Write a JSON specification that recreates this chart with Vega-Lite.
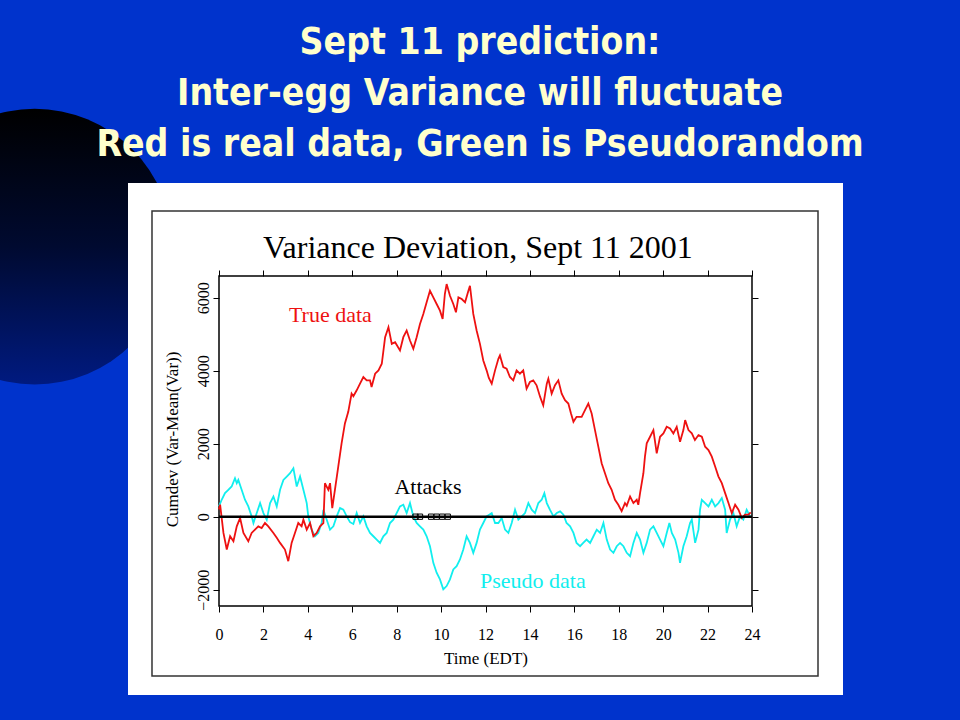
{
 "$schema": "https://vega.github.io/schema/vega-lite/v6.json",
 "width": 715, "height": 512,
 "autosize": {"type": "none"},
 "padding": {"left": 128, "top": 183, "right": 117, "bottom": 25},
 "background": "#0033cc",
 "config": {"view": {"stroke": null}, "axis": {"grid": false, "domain": false, "tickColor": "#000000", "tickWidth": 1, "labelColor": "#000000", "titleColor": "#000000", "labelFont": "Liberation Serif", "titleFont": "Liberation Serif", "titleFontWeight": "normal", "labelFlush": false, "labelOverlap": false}},
 "title": {"text": ["Sept 11 prediction:", "Inter-egg Variance will fluctuate", "Red is real data, Green is Pseudorandom"], "font": "Liberation Sans Narrow, Arial Narrow, DejaVu Sans Condensed, sans-serif", "fontSize": 37, "fontWeight": "bold", "color": "#ffffcc", "lineHeight": 51, "anchor": "middle", "frame": "group", "dx": -5.5, "offset": -55, "orient": "top"},
 "datasets": {
  "series": [
   {"s":"true","t":0,"v":200},{"s":"true","t":0.05,"v":330},{"s":"true","t":0.2,"v":-445},{"s":"true","t":0.35,"v":-900},{"s":"true","t":0.5,"v":-536},{"s":"true","t":0.65,"v":-673},{"s":"true","t":0.8,"v":-264},{"s":"true","t":0.95,"v":-36},{"s":"true","t":1.1,"v":-445},{"s":"true","t":1.32,"v":-673},{"s":"true","t":1.47,"v":-445},{"s":"true","t":1.62,"v":-355},{"s":"true","t":1.77,"v":-264},{"s":"true","t":1.92,"v":-309},{"s":"true","t":2.07,"v":-173},{"s":"true","t":2.22,"v":-264},{"s":"true","t":2.45,"v":-445},{"s":"true","t":2.6,"v":-580},{"s":"true","t":2.75,"v":-718},{"s":"true","t":2.97,"v":-900},{"s":"true","t":3.12,"v":-1218},{"s":"true","t":3.27,"v":-718},{"s":"true","t":3.42,"v":-445},{"s":"true","t":3.57,"v":-173},{"s":"true","t":3.72,"v":-264},{"s":"true","t":3.8,"v":-82},{"s":"true","t":3.95,"v":-355},{"s":"true","t":4.1,"v":-173},{"s":"true","t":4.25,"v":-536},{"s":"true","t":4.4,"v":-445},{"s":"true","t":4.55,"v":-264},{"s":"true","t":4.7,"v":-173},{"s":"true","t":4.77,"v":918},{"s":"true","t":4.92,"v":736},{"s":"true","t":5.0,"v":918},{"s":"true","t":5.1,"v":236},{"s":"true","t":5.22,"v":736},{"s":"true","t":5.37,"v":1373},{"s":"true","t":5.52,"v":2009},{"s":"true","t":5.67,"v":2554},{"s":"true","t":5.82,"v":2872},{"s":"true","t":5.97,"v":3372},{"s":"true","t":6.05,"v":3300},{"s":"true","t":6.2,"v":3463},{"s":"true","t":6.35,"v":3645},{"s":"true","t":6.5,"v":3827},{"s":"true","t":6.65,"v":3736},{"s":"true","t":6.8,"v":3736},{"s":"true","t":6.87,"v":3554},{"s":"true","t":7.03,"v":3918},{"s":"true","t":7.18,"v":4009},{"s":"true","t":7.33,"v":4190},{"s":"true","t":7.48,"v":4918},{"s":"true","t":7.63,"v":5190},{"s":"true","t":7.78,"v":4736},{"s":"true","t":7.93,"v":4781},{"s":"true","t":8.15,"v":4554},{"s":"true","t":8.3,"v":4918},{"s":"true","t":8.45,"v":5100},{"s":"true","t":8.6,"v":4827},{"s":"true","t":8.75,"v":4600},{"s":"true","t":8.9,"v":4918},{"s":"true","t":9.05,"v":5281},{"s":"true","t":9.2,"v":5554},{"s":"true","t":9.35,"v":5872},{"s":"true","t":9.5,"v":6190},{"s":"true","t":9.65,"v":6009},{"s":"true","t":9.8,"v":5827},{"s":"true","t":9.95,"v":5645},{"s":"true","t":10.07,"v":5418},{"s":"true","t":10.17,"v":6100},{"s":"true","t":10.25,"v":6372},{"s":"true","t":10.4,"v":6054},{"s":"true","t":10.55,"v":5827},{"s":"true","t":10.67,"v":5600},{"s":"true","t":10.78,"v":6009},{"s":"true","t":10.93,"v":5963},{"s":"true","t":11.08,"v":5872},{"s":"true","t":11.23,"v":6190},{"s":"true","t":11.3,"v":6327},{"s":"true","t":11.45,"v":5554},{"s":"true","t":11.6,"v":5100},{"s":"true","t":11.75,"v":4736},{"s":"true","t":11.9,"v":4281},{"s":"true","t":12.05,"v":4009},{"s":"true","t":12.15,"v":3800},{"s":"true","t":12.28,"v":3645},{"s":"true","t":12.43,"v":4009},{"s":"true","t":12.58,"v":4327},{"s":"true","t":12.65,"v":4418},{"s":"true","t":12.8,"v":4100},{"s":"true","t":12.95,"v":4054},{"s":"true","t":13.1,"v":3827},{"s":"true","t":13.25,"v":3736},{"s":"true","t":13.4,"v":4009},{"s":"true","t":13.55,"v":3918},{"s":"true","t":13.7,"v":4009},{"s":"true","t":13.85,"v":3509},{"s":"true","t":14.0,"v":3690},{"s":"true","t":14.15,"v":3736},{"s":"true","t":14.3,"v":3600},{"s":"true","t":14.46,"v":3281},{"s":"true","t":14.6,"v":3054},{"s":"true","t":14.76,"v":3645},{"s":"true","t":14.83,"v":3781},{"s":"true","t":14.98,"v":3372},{"s":"true","t":15.13,"v":3600},{"s":"true","t":15.28,"v":3736},{"s":"true","t":15.43,"v":3372},{"s":"true","t":15.58,"v":3190},{"s":"true","t":15.73,"v":3100},{"s":"true","t":15.85,"v":2827},{"s":"true","t":15.96,"v":2600},{"s":"true","t":16.1,"v":2736},{"s":"true","t":16.33,"v":2736},{"s":"true","t":16.48,"v":2918},{"s":"true","t":16.63,"v":3100},{"s":"true","t":16.78,"v":2827},{"s":"true","t":16.93,"v":2372},{"s":"true","t":17.08,"v":1918},{"s":"true","t":17.23,"v":1463},{"s":"true","t":17.38,"v":1190},{"s":"true","t":17.53,"v":918},{"s":"true","t":17.68,"v":736},{"s":"true","t":17.83,"v":464},{"s":"true","t":17.98,"v":327},{"s":"true","t":18.13,"v":150},{"s":"true","t":18.28,"v":373},{"s":"true","t":18.36,"v":300},{"s":"true","t":18.51,"v":554},{"s":"true","t":18.66,"v":373},{"s":"true","t":18.81,"v":464},{"s":"true","t":18.88,"v":327},{"s":"true","t":18.96,"v":645},{"s":"true","t":19.11,"v":1191},{"s":"true","t":19.18,"v":1645},{"s":"true","t":19.26,"v":2009},{"s":"true","t":19.41,"v":2190},{"s":"true","t":19.56,"v":2372},{"s":"true","t":19.71,"v":1736},{"s":"true","t":19.86,"v":2190},{"s":"true","t":20.01,"v":2282},{"s":"true","t":20.16,"v":2463},{"s":"true","t":20.31,"v":2418},{"s":"true","t":20.46,"v":2282},{"s":"true","t":20.61,"v":2463},{"s":"true","t":20.76,"v":2054},{"s":"true","t":20.91,"v":2372},{"s":"true","t":20.99,"v":2645},{"s":"true","t":21.14,"v":2372},{"s":"true","t":21.29,"v":2282},{"s":"true","t":21.43,"v":2100},{"s":"true","t":21.59,"v":2236},{"s":"true","t":21.74,"v":2190},{"s":"true","t":21.89,"v":1918},{"s":"true","t":22.04,"v":1827},{"s":"true","t":22.19,"v":1645},{"s":"true","t":22.34,"v":1373},{"s":"true","t":22.49,"v":1100},{"s":"true","t":22.64,"v":918},{"s":"true","t":22.79,"v":645},{"s":"true","t":22.94,"v":373},{"s":"true","t":23.09,"v":100},{"s":"true","t":23.24,"v":327},{"s":"true","t":23.39,"v":190},{"s":"true","t":23.54,"v":-36},{"s":"true","t":23.69,"v":55},{"s":"true","t":23.84,"v":55},{"s":"true","t":23.94,"v":118},
   {"s":"pseudo","t":0,"v":282},{"s":"pseudo","t":0.12,"v":464},{"s":"pseudo","t":0.27,"v":645},{"s":"pseudo","t":0.42,"v":736},{"s":"pseudo","t":0.57,"v":827},{"s":"pseudo","t":0.72,"v":1054},{"s":"pseudo","t":0.8,"v":918},{"s":"pseudo","t":0.87,"v":1009},{"s":"pseudo","t":1.02,"v":736},{"s":"pseudo","t":1.17,"v":464},{"s":"pseudo","t":1.32,"v":282},{"s":"pseudo","t":1.47,"v":9},{"s":"pseudo","t":1.55,"v":-173},{"s":"pseudo","t":1.7,"v":100},{"s":"pseudo","t":1.85,"v":373},{"s":"pseudo","t":2.0,"v":100},{"s":"pseudo","t":2.15,"v":-82},{"s":"pseudo","t":2.3,"v":373},{"s":"pseudo","t":2.45,"v":554},{"s":"pseudo","t":2.6,"v":282},{"s":"pseudo","t":2.75,"v":736},{"s":"pseudo","t":2.9,"v":1009},{"s":"pseudo","t":3.05,"v":1100},{"s":"pseudo","t":3.2,"v":1191},{"s":"pseudo","t":3.35,"v":1327},{"s":"pseudo","t":3.5,"v":827},{"s":"pseudo","t":3.65,"v":1100},{"s":"pseudo","t":3.8,"v":736},{"s":"pseudo","t":3.95,"v":373},{"s":"pseudo","t":4.02,"v":9},{"s":"pseudo","t":4.17,"v":-355},{"s":"pseudo","t":4.32,"v":-536},{"s":"pseudo","t":4.47,"v":-445},{"s":"pseudo","t":4.62,"v":-173},{"s":"pseudo","t":4.7,"v":190},{"s":"pseudo","t":4.85,"v":-82},{"s":"pseudo","t":5.0,"v":-355},{"s":"pseudo","t":5.15,"v":-264},{"s":"pseudo","t":5.3,"v":9},{"s":"pseudo","t":5.45,"v":236},{"s":"pseudo","t":5.6,"v":191},{"s":"pseudo","t":5.75,"v":9},{"s":"pseudo","t":5.9,"v":-150},{"s":"pseudo","t":6.05,"v":-200},{"s":"pseudo","t":6.2,"v":100},{"s":"pseudo","t":6.35,"v":-173},{"s":"pseudo","t":6.5,"v":9},{"s":"pseudo","t":6.65,"v":-264},{"s":"pseudo","t":6.8,"v":-445},{"s":"pseudo","t":6.95,"v":-536},{"s":"pseudo","t":7.1,"v":-627},{"s":"pseudo","t":7.25,"v":-718},{"s":"pseudo","t":7.4,"v":-536},{"s":"pseudo","t":7.55,"v":-445},{"s":"pseudo","t":7.7,"v":-173},{"s":"pseudo","t":7.85,"v":-82},{"s":"pseudo","t":8.0,"v":100},{"s":"pseudo","t":8.15,"v":282},{"s":"pseudo","t":8.3,"v":327},{"s":"pseudo","t":8.45,"v":100},{"s":"pseudo","t":8.6,"v":373},{"s":"pseudo","t":8.75,"v":9},{"s":"pseudo","t":8.9,"v":-173},{"s":"pseudo","t":9.05,"v":-264},{"s":"pseudo","t":9.2,"v":-355},{"s":"pseudo","t":9.35,"v":-536},{"s":"pseudo","t":9.5,"v":-809},{"s":"pseudo","t":9.65,"v":-1264},{"s":"pseudo","t":9.8,"v":-1536},{"s":"pseudo","t":9.95,"v":-1718},{"s":"pseudo","t":10.1,"v":-1990},{"s":"pseudo","t":10.25,"v":-1900},{"s":"pseudo","t":10.4,"v":-1718},{"s":"pseudo","t":10.55,"v":-1445},{"s":"pseudo","t":10.7,"v":-1354},{"s":"pseudo","t":10.85,"v":-1172},{"s":"pseudo","t":11.0,"v":-900},{"s":"pseudo","t":11.15,"v":-536},{"s":"pseudo","t":11.3,"v":-718},{"s":"pseudo","t":11.45,"v":-990},{"s":"pseudo","t":11.6,"v":-718},{"s":"pseudo","t":11.75,"v":-355},{"s":"pseudo","t":11.9,"v":-173},{"s":"pseudo","t":12.05,"v":9},{"s":"pseudo","t":12.28,"v":100},{"s":"pseudo","t":12.43,"v":-173},{"s":"pseudo","t":12.58,"v":-173},{"s":"pseudo","t":12.73,"v":-36},{"s":"pseudo","t":12.88,"v":-355},{"s":"pseudo","t":13.03,"v":-445},{"s":"pseudo","t":13.18,"v":-173},{"s":"pseudo","t":13.33,"v":191},{"s":"pseudo","t":13.48,"v":-82},{"s":"pseudo","t":13.63,"v":9},{"s":"pseudo","t":13.78,"v":100},{"s":"pseudo","t":13.93,"v":373},{"s":"pseudo","t":14.08,"v":191},{"s":"pseudo","t":14.23,"v":100},{"s":"pseudo","t":14.38,"v":373},{"s":"pseudo","t":14.53,"v":464},{"s":"pseudo","t":14.65,"v":645},{"s":"pseudo","t":14.76,"v":373},{"s":"pseudo","t":14.9,"v":191},{"s":"pseudo","t":15.06,"v":9},{"s":"pseudo","t":15.21,"v":100},{"s":"pseudo","t":15.36,"v":145},{"s":"pseudo","t":15.51,"v":55},{"s":"pseudo","t":15.65,"v":-173},{"s":"pseudo","t":15.81,"v":-264},{"s":"pseudo","t":15.96,"v":-445},{"s":"pseudo","t":16.1,"v":-718},{"s":"pseudo","t":16.26,"v":-809},{"s":"pseudo","t":16.4,"v":-718},{"s":"pseudo","t":16.55,"v":-627},{"s":"pseudo","t":16.71,"v":-718},{"s":"pseudo","t":16.86,"v":-536},{"s":"pseudo","t":17.01,"v":-355},{"s":"pseudo","t":17.16,"v":-445},{"s":"pseudo","t":17.31,"v":-173},{"s":"pseudo","t":17.46,"v":-627},{"s":"pseudo","t":17.61,"v":-900},{"s":"pseudo","t":17.76,"v":-990},{"s":"pseudo","t":17.91,"v":-809},{"s":"pseudo","t":18.06,"v":-718},{"s":"pseudo","t":18.21,"v":-809},{"s":"pseudo","t":18.36,"v":-990},{"s":"pseudo","t":18.51,"v":-1082},{"s":"pseudo","t":18.66,"v":-718},{"s":"pseudo","t":18.81,"v":-445},{"s":"pseudo","t":18.96,"v":-627},{"s":"pseudo","t":19.11,"v":-990},{"s":"pseudo","t":19.26,"v":-718},{"s":"pseudo","t":19.41,"v":-355},{"s":"pseudo","t":19.56,"v":-264},{"s":"pseudo","t":19.71,"v":-445},{"s":"pseudo","t":19.86,"v":-627},{"s":"pseudo","t":20.01,"v":-809},{"s":"pseudo","t":20.16,"v":-445},{"s":"pseudo","t":20.28,"v":-173},{"s":"pseudo","t":20.39,"v":-445},{"s":"pseudo","t":20.54,"v":-627},{"s":"pseudo","t":20.69,"v":-990},{"s":"pseudo","t":20.76,"v":-1263},{"s":"pseudo","t":20.91,"v":-809},{"s":"pseudo","t":21.06,"v":-536},{"s":"pseudo","t":21.21,"v":-173},{"s":"pseudo","t":21.29,"v":-82},{"s":"pseudo","t":21.44,"v":-718},{"s":"pseudo","t":21.59,"v":-355},{"s":"pseudo","t":21.66,"v":191},{"s":"pseudo","t":21.74,"v":464},{"s":"pseudo","t":21.89,"v":373},{"s":"pseudo","t":22.04,"v":282},{"s":"pseudo","t":22.19,"v":464},{"s":"pseudo","t":22.34,"v":282},{"s":"pseudo","t":22.49,"v":373},{"s":"pseudo","t":22.64,"v":509},{"s":"pseudo","t":22.79,"v":191},{"s":"pseudo","t":22.86,"v":-445},{"s":"pseudo","t":23.01,"v":-82},{"s":"pseudo","t":23.16,"v":100},{"s":"pseudo","t":23.31,"v":-264},{"s":"pseudo","t":23.46,"v":9},{"s":"pseudo","t":23.61,"v":-82},{"s":"pseudo","t":23.76,"v":191},{"s":"pseudo","t":23.91,"v":9}
  ],
  "attacks": [{"t":8.85,"v":0},{"t":9.05,"v":0},{"t":9.55,"v":0},{"t":9.8,"v":0},{"t":10.05,"v":0},{"t":10.3,"v":0}],
  "labels": [{"label":"True data","t":3.15,"v":5330},{"label":"Attacks","t":7.9,"v":620},{"label":"Pseudo data","t":11.75,"v":-1950}]
 },
 "layer": [
  {"data": {"values": [{}]},
   "mark": {"type": "point", "shape": "circle", "filled": true, "size": 76000, "opacity": 1, "strokeWidth": 0, "fill": {"gradient": "linear", "x1": 0, "y1": 0, "x2": 0, "y2": 1, "stops": [{"offset": 0, "color": "#000000"}, {"offset": 0.5, "color": "#000a30"}, {"offset": 1, "color": "#001a80"}]}},
   "encoding": {"x": {"datum": -8.3, "type": "quantitative", "scale": {"domain": [-4.0976, 28.0976], "nice": false, "zero": false}, "axis": null}, "y": {"datum": 7400, "type": "quantitative", "scale": {"domain": [-4885, 9142], "nice": false, "zero": false}, "axis": null}}},
  {"data": {"values": [{}]},
   "mark": {"type": "rect", "fill": "#ffffff"},
   "encoding": {
    "x": {"datum": -4.0976, "type": "quantitative", "scale": {"domain": [-4.0976, 28.0976], "nice": false, "zero": false}, "axis": {"orient": "bottom", "zindex": 2, "offset": -89, "values": [0,2,4,6,8,10,12,14,16,18,20,22,24], "format": "d", "tickSize": 6, "labelFontSize": 16, "labelPadding": 14, "title": "Time (EDT)", "titleFontSize": 17, "titlePadding": 8}},
    "x2": {"datum": 28.0976},
    "y": {"datum": -4885, "type": "quantitative", "scale": {"domain": [-4885, 9142], "nice": false, "zero": false}, "axis": {"orient": "left", "zindex": 2, "offset": -91, "values": [-2000, 0, 2000, 4000, 6000], "format": "d", "tickSize": 6, "labelFontSize": 16, "labelAngle": 270, "labelAlign": "center", "labelBaseline": "bottom", "labelPadding": 2, "title": "Cumdev (Var-Mean(Var))", "titleFontSize": 17, "titlePadding": 14}},
    "y2": {"datum": 9142}}},
  {"data": {"values": [{}]},
   "mark": {"type": "rect", "fill": "#ffffff", "fillOpacity": 0, "stroke": "#333333", "strokeWidth": 1.5},
   "encoding": {"x": {"datum": -3.017, "type": "quantitative", "scale": {"domain": [-4.0976, 28.0976], "nice": false, "zero": false}, "axis": null}, "x2": {"datum": 26.972}, "y": {"datum": -4364, "type": "quantitative", "scale": {"domain": [-4885, 9142], "nice": false, "zero": false}, "axis": null}, "y2": {"datum": 8375}}},
  {"data": {"values": [{}]},
   "mark": {"type": "rect", "fill": "#ffffff", "fillOpacity": 0, "stroke": "#000000", "strokeWidth": 1.5},
   "encoding": {
    "x": {"datum": 0, "type": "quantitative", "scale": {"domain": [-4.0976, 28.0976], "nice": false, "zero": false}, "axis": {"orient": "top", "zindex": 2, "offset": -93, "values": [0,2,4,6,8,10,12,14,16,18,20,22,24], "tickSize": 6, "labels": false, "title": null}},
    "x2": {"datum": 24},
    "y": {"datum": -2447, "type": "quantitative", "scale": {"domain": [-4885, 9142], "nice": false, "zero": false}, "axis": {"orient": "right", "zindex": 2, "offset": -91, "values": [-2000, 0, 2000, 4000, 6000], "tickSize": 6, "labels": false, "title": null}},
    "y2": {"datum": 6595}}},
  {"data": {"name": "series"}, "transform": [{"filter": "datum.s == 'pseudo'"}],
   "mark": {"type": "line", "color": "#11eeee", "strokeWidth": 1.8},
   "encoding": {"x": {"field": "t", "type": "quantitative", "scale": {"domain": [-4.0976, 28.0976], "nice": false, "zero": false}, "axis": null}, "y": {"field": "v", "type": "quantitative", "scale": {"domain": [-4885, 9142], "nice": false, "zero": false}, "axis": null}}},
  {"data": {"name": "series"}, "transform": [{"filter": "datum.s == 'true'"}],
   "mark": {"type": "line", "color": "#ee1111", "strokeWidth": 1.8},
   "encoding": {"x": {"field": "t", "type": "quantitative", "scale": {"domain": [-4.0976, 28.0976], "nice": false, "zero": false}, "axis": null}, "y": {"field": "v", "type": "quantitative", "scale": {"domain": [-4885, 9142], "nice": false, "zero": false}, "axis": null}}},
  {"data": {"values": [{}]},
   "mark": {"type": "rule", "color": "#000000", "strokeWidth": 2.5},
   "encoding": {"x": {"datum": 0, "type": "quantitative", "scale": {"domain": [-4.0976, 28.0976], "nice": false, "zero": false}, "axis": null}, "x2": {"datum": 24}, "y": {"datum": 0, "type": "quantitative", "scale": {"domain": [-4885, 9142], "nice": false, "zero": false}, "axis": null}}},
  {"data": {"name": "attacks"},
   "mark": {"type": "point", "shape": "square", "filled": false, "size": 28, "color": "#000000", "strokeWidth": 1, "opacity": 1},
   "encoding": {"x": {"field": "t", "type": "quantitative", "scale": {"domain": [-4.0976, 28.0976], "nice": false, "zero": false}, "axis": null}, "y": {"field": "v", "type": "quantitative", "scale": {"domain": [-4885, 9142], "nice": false, "zero": false}, "axis": null}}},
  {"data": {"name": "labels"},
   "mark": {"type": "text", "font": "Liberation Serif", "fontSize": 22, "align": "left", "baseline": "alphabetic"},
   "encoding": {"x": {"field": "t", "type": "quantitative", "scale": {"domain": [-4.0976, 28.0976], "nice": false, "zero": false}, "axis": null}, "y": {"field": "v", "type": "quantitative", "scale": {"domain": [-4885, 9142], "nice": false, "zero": false}, "axis": null}, "text": {"field": "label"}, "color": {"field": "label", "type": "nominal", "scale": {"domain": ["True data", "Attacks", "Pseudo data"], "range": ["#ee1111", "#000000", "#11eeee"]}, "legend": null}}},
  {"data": {"values": [{}]},
   "mark": {"type": "text", "font": "Liberation Serif", "fontSize": 32, "align": "center", "baseline": "alphabetic", "color": "#000000", "text": "Variance Deviation, Sept 11 2001"},
   "encoding": {"x": {"datum": 11.66, "type": "quantitative", "scale": {"domain": [-4.0976, 28.0976], "nice": false, "zero": false}, "axis": null}, "y": {"datum": 7088, "type": "quantitative", "scale": {"domain": [-4885, 9142], "nice": false, "zero": false}, "axis": null}}}
 ],
 "resolve": {"axis": {"x": "independent", "y": "independent"}}
}
